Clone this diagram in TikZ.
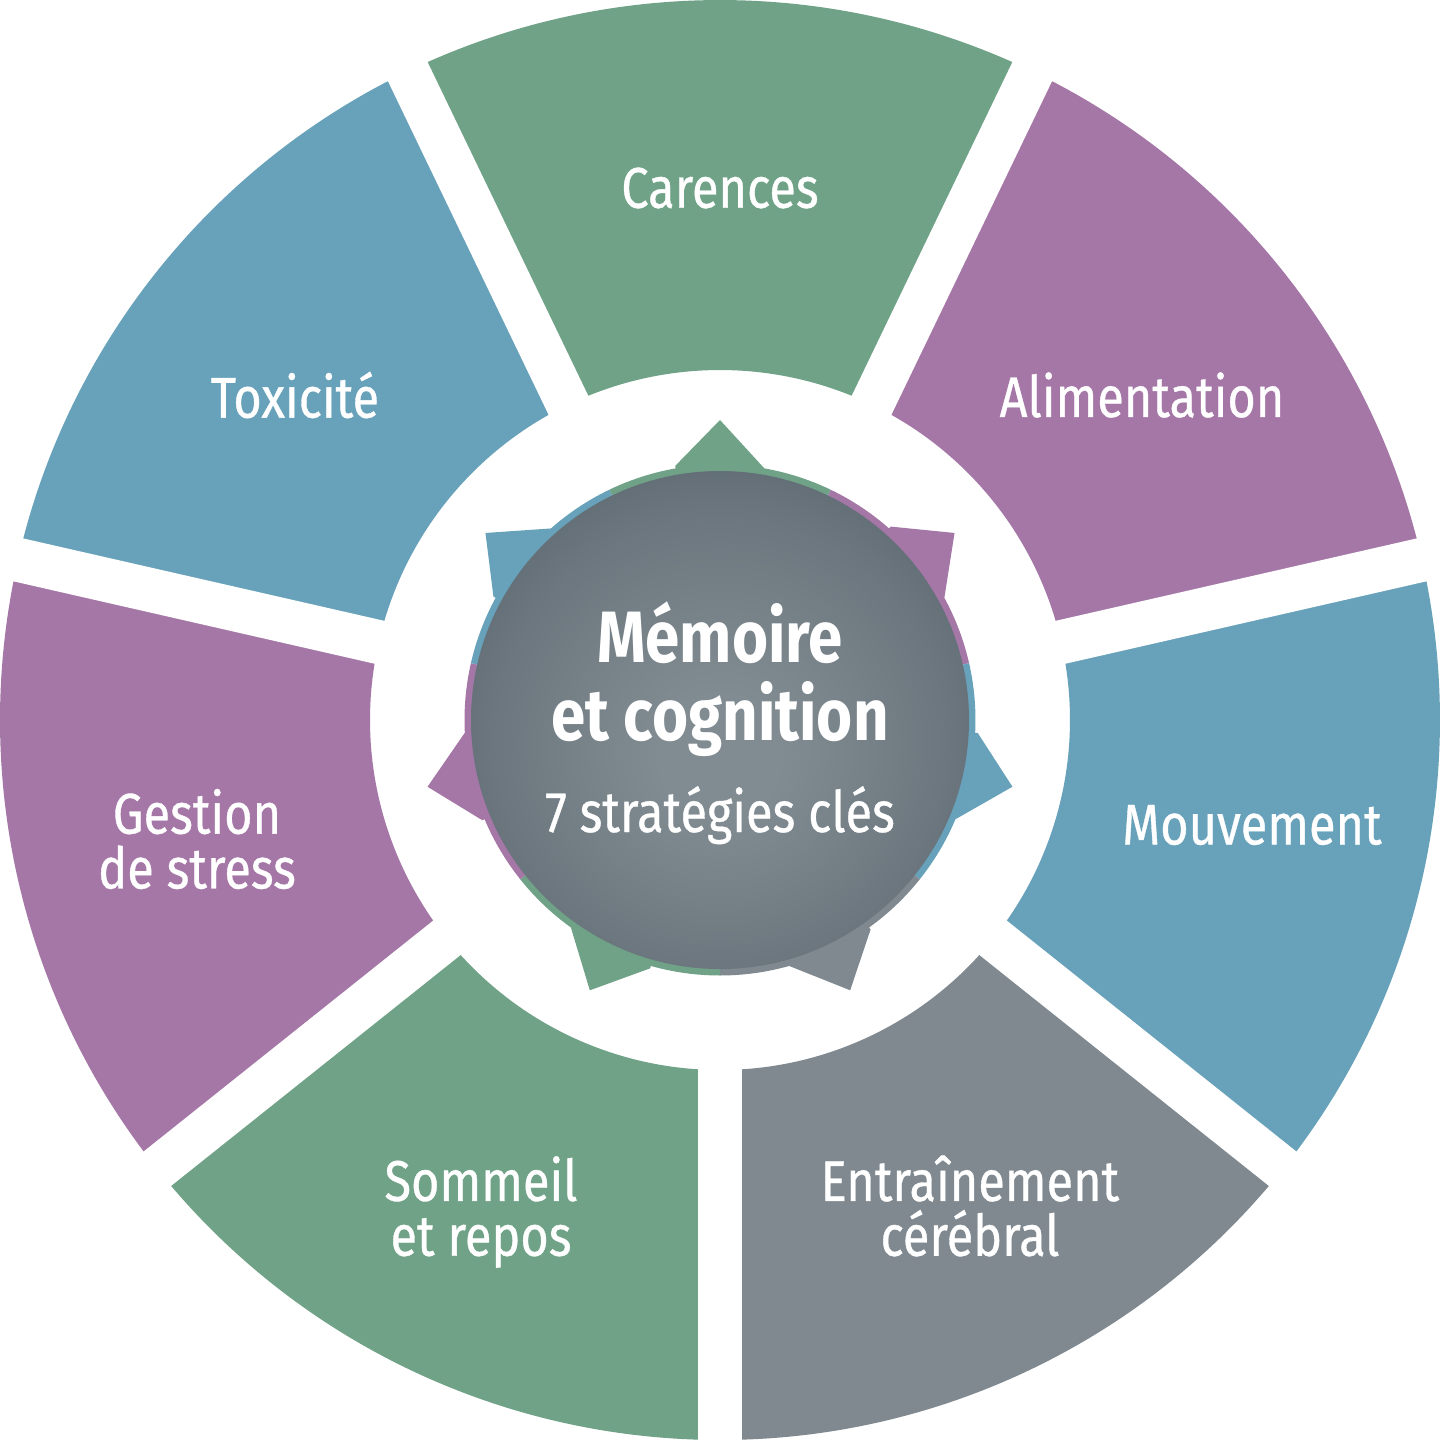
\documentclass[tikz,border=0pt]{standalone}
\usepackage{fontspec}
\setmainfont{Fira Sans}[FakeStretch=0.85, UprightFeatures={FakeBold=0.6}, BoldFeatures={FakeBold=0}]
\definecolor{wheelgreen}{HTML}{6FA287}
\definecolor{wheelpurple}{HTML}{A577A7}
\definecolor{wheelblue}{HTML}{68A1BA}
\definecolor{wheelgray}{HTML}{7F898F}
\definecolor{hublight}{HTML}{818C92}
\definecolor{hubmid}{HTML}{6B767E}
\definecolor{hubdark}{HTML}{55616A}
\pgfdeclareradialshading{hubshade}{\pgfpoint{0bp}{-4bp}}{color(0bp)=(hublight); color(6bp)=(hublight); color(23bp)=(hubmid); color(35bp)=(hubdark); color(50bp)=(hubdark)}

\begin{document}
\begin{tikzpicture}[every node/.style={text=white, inner sep=0pt, font=\fontsize{16.3}{15.6}\selectfont}]
			\useasboundingbox (-7.2,-7.2) rectangle (7.21,7.2);
			\foreach \i/\c in {1/wheelgreen, 2/wheelpurple, 3/wheelblue, 4/wheelgray, 5/wheelgreen, 6/wheelpurple, 7/wheelblue} {
				\pgfmathsetmacro{\a}{90-360/7*(\i-1)}
				\fill[\c] ({\a-180/7}:3.5) arc[start angle={\a-180/7}, end angle={\a+180/7}, radius=3.5]
					-- ({\a+180/7}:7.2) arc[start angle={\a+180/7}, end angle={\a-180/7}, radius=7.2] -- cycle;
			}
			\foreach \i in {1,...,7} {
				\draw[white, line width=0.44cm] (0,0) -- ({90-360/7*(\i-1)-180/7}:7.35);
			}

			\foreach \i/\c in {1/wheelgreen, 2/wheelpurple, 3/wheelblue, 4/wheelgray, 5/wheelgreen, 6/wheelpurple, 7/wheelblue} {
				\pgfmathsetmacro{\a}{90-360/7*(\i-1)}
				\fill[\c] (0,0) -- ({\a-180/7}:2.555) arc[start angle={\a-180/7}, end angle={\a-10}, radius=2.555]
					-- (\a:3.0) -- ({\a+10}:2.58) -- ({\a+10}:2.555) arc[start angle={\a+10}, end angle={\a+180/7}, radius=2.555] -- cycle;
			}
			\node[circle, minimum size=4.98cm, shading=hubshade] (hub) at (0,0) {};

			\node[anchor=base, font=\fontsize{20.7}{22}\selectfont\bfseries] (memoire) at (0,0.58) {Mémoire};
			\node[anchor=base, font=\fontsize{20.7}{22}\selectfont\bfseries] (cognition) at (0,-0.20) {et cognition};
			\node[anchor=base] (strategies) at (0,-1.12) {7 stratégies clés};

			\foreach \nm/\x/\y/\txt in {carences/0/5.32/Carences, alimentation/4.22/3.25/Alimentation, mouvement/5.32/-1.05/Mouvement, entrainement/2.50/-4.86/{Entraînement\\cérébral}, sommeil/-2.39/-4.92/{Sommeil\\et repos}, gestion/-5.23/-1.19/{Gestion\\de stress}, toxicite/-4.25/3.25/Toxicité} {
				\node[align=center] (\nm) at (\x,\y) {\txt};
			}
		\end{tikzpicture}
\end{document}
